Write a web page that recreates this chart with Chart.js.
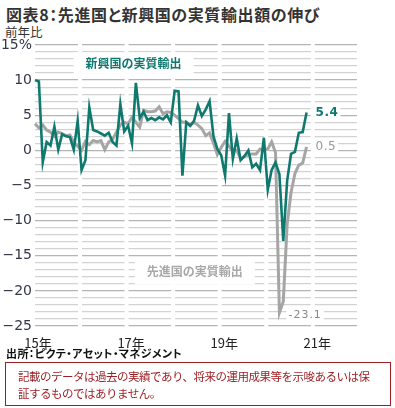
<!DOCTYPE html>
<html lang="ja">
<head>
<meta charset="utf-8">
<script src="https://cdn.jsdelivr.net/npm/chart.js@4"></script>
<style>
  body { margin: 0; width: 395px; height: 408px; background: #fff; position: relative; overflow: hidden;
         font-family: "Noto Sans CJK JP", sans-serif; }
  #title { position: absolute; left: 6px; top: 2px; font-size: 16px; font-weight: bold; color: #333; letter-spacing: 0.6px;
           white-space: nowrap; font-feature-settings: "palt"; }
  #unit { position: absolute; left: 5px; top: 22px; font-size: 12.5px; color: #333; }
  #chart { position: absolute; left: 0; top: 0; }
  #source { position: absolute; left: 6px; top: 345px; font-size: 11px; font-weight: bold; color: #111; letter-spacing: 0.4px;
            white-space: nowrap; font-feature-settings: "palt"; }
  #note { position: absolute; left: 5px; top: 362px; width: 386px; height: 44px; border: 1px solid #9c1f24;
          box-sizing: border-box; padding: 5px 0 0 12px; font-size: 11.5px; line-height: 17px; color: #9c1f24;
          letter-spacing: -0.5px; white-space: nowrap; }
</style>
</head>
<body>
<div id="title">図表8：先進国と新興国の実質輸出額の伸び</div>
<div id="unit">前年比</div>
<canvas id="chart" width="395" height="350"></canvas>
<div id="source">出所：ピクテ・アセット・マネジメント</div>
<div id="note">記載のデータは過去の実績であり、将来の運用成果等を示唆あるいは保<br>証するものではありません。</div>

<script>
// categories: one per month, Jan 2015 .. Dec 2021
const years = ["15年", "16年", "17年", "18年", "19年", "20年", "21年"];
const monthNames = ["1月","2月","3月","4月","5月","6月","7月","8月","9月","10月","11月","12月"];
const shownYears = ["15年", "17年", "19年", "21年"];

// 前年比 %, Jan 2015 .. Nov 2020
const emerging = [
  10.0, 9.8, -1.7, 1.2, 0.7, 3.4, 0.1, 2.3, 2.0, 1.9, 0.1, 4.2,
  -2.8, -1.4, 6.1, 2.9, 2.7, 2.4, 2.1, 2.5, 1.2, 0.7, 6.6, 2.7,
  3.5, 1.0, 9.6, 4.6, 5.5, 4.3, 4.6, 4.3, 4.7, 4.4, 5.0, 4.0,
  8.5, 8.4, -3.6, 4.0, 3.5, 4.2, 6.4, 4.9, 5.8, 7.0, 2.0, 0.2,
  -0.7, -3.6, 5.3, -1.2, 1.7, -1.4, -0.8, 0.0, -2.4, -1.9, -2.8, 1.8,
  -5.6, -2.8, -1.7, -3.4, -12.9, -4.3, -0.5, -0.2, 2.5, 2.6, 5.4
];
const developed = [
  3.8, 3.2, 3.6, 2.9, 2.6, 2.0, 2.6, 2.4, 2.1, 2.2, 1.2, 0.6,
  0.0, 1.3, 0.8, 1.4, 1.2, 1.4, 0.1, 1.2, 1.6, 2.6, 3.6, 4.0,
  3.8, 4.7, 4.0, 3.3, 5.7, 5.5, 5.5, 5.6, 6.2, 5.2, 5.5, 5.4,
  5.0, 4.5, 4.0, 4.0, 3.6, 4.0, 3.6, 3.1, 2.1, 2.5, 1.0, -0.6,
  0.4, 1.3, 0.6, -0.2, 0.0, -1.2, -0.9, -0.6, -0.5, -0.5, 0.2, 0.0,
  0.2, 1.2, -0.3, -23.1, -21.5, -10.5, -6.0, -3.3, -2.1, -1.8, 0.5
];

const yMin = -25, yMax = 15;
const tealColor = "#10796f";
const greyColor = "#a5a5a5";

const labels = [];
years.forEach(y => monthNames.forEach(m => labels.push(y + m)));

// white gaps in the horizontal grid at each year boundary
const yearGaps = {
  id: "yearGaps",
  beforeDatasetsDraw(chart) {
    const { ctx, chartArea, scales } = chart;
    ctx.save();
    ctx.strokeStyle = "#fff";
    ctx.lineWidth = 4;
    for (let i = 1; i < years.length; i++) {
      const x = scales.x.getPixelForValue(i * 12 - 0.4);
      ctx.beginPath();
      ctx.moveTo(x, chartArea.top - 2);
      ctx.lineTo(x, chartArea.bottom + 2);
      ctx.stroke();
    }
    ctx.restore();
  }
};

function boxedText(ctx, text, x, y, opts) {
  ctx.font = opts.font;
  ctx.letterSpacing = opts.spacing || "0px";
  const w = ctx.measureText(text).width;
  ctx.fillStyle = "#fff";
  ctx.fillRect(x - (opts.align === "left" ? opts.padX : w / 2 + opts.padX), y - opts.h / 2,
               w + opts.padX * 2, opts.h);
  ctx.fillStyle = opts.color;
  ctx.textAlign = opts.align || "center";
  ctx.textBaseline = "middle";
  ctx.fillText(text, x, y);
}

// series names and end/min value labels
const annotations = {
  id: "annotations",
  beforeDatasetsDraw(chart) {
    const { ctx, scales } = chart;
    const x = scales.x, y = scales.y;
    ctx.save();
    boxedText(ctx, "新興国の実質輸出", x.getPixelForValue(25.4), y.getPixelForValue(12.4),
      { font: "bold 12px 'Noto Sans CJK JP'", color: tealColor, padX: 12, h: 22 });
    boxedText(ctx, "先進国の実質輸出", x.getPixelForValue(41.2), y.getPixelForValue(-17.3),
      { font: "bold 12px 'Noto Sans CJK JP'", color: "#a8a8a8", padX: 12, h: 25 });
    ctx.restore();
  },
  afterDatasetsDraw(chart) {
    const { ctx, scales } = chart;
    const x = scales.x, y = scales.y;
    const last = emerging.length - 1;
    const minVal = Math.min(...developed);
    const minIdx = developed.indexOf(minVal);
    ctx.save();
    boxedText(ctx, emerging[last].toFixed(1), x.getPixelForValue(last) + 9, y.getPixelForValue(emerging[last]),
      { font: "bold 12px 'DejaVu Sans'", color: tealColor, padX: 2, h: 12, align: "left", spacing: "0.5px" });
    boxedText(ctx, developed[last].toFixed(1), x.getPixelForValue(last) + 9, y.getPixelForValue(developed[last]),
      { font: "12px 'DejaVu Sans'", color: "#999", padX: 2, h: 12, align: "left", spacing: "0.5px" });
    boxedText(ctx, minVal.toFixed(1), x.getPixelForValue(minIdx) + 9, y.getPixelForValue(minVal) + 2,
      { font: "11px 'DejaVu Sans'", color: "#888", padX: 2, h: 12, align: "left", spacing: "1px" });
    ctx.restore();
  }
};

new Chart(document.getElementById("chart"), {
  type: "line",
  data: {
    labels: labels,
    datasets: [
      { label: "新興国の実質輸出", data: emerging, borderColor: tealColor, borderWidth: 2.6,
        pointRadius: 0, tension: 0, fill: false },
      { label: "先進国の実質輸出", data: developed, borderColor: greyColor, borderWidth: 3,
        pointRadius: 0, tension: 0, fill: false }
    ]
  },
  options: {
    responsive: false,
    animation: false,
    devicePixelRatio: 1,
    layout: { padding: { left: 0, right: 38, top: 45, bottom: 0 } },
    plugins: { legend: { display: false }, tooltip: { enabled: false } },
    scales: {
      x: {
        type: "category",
        offset: false,
        grid: { display: false },
        border: { display: false },
        afterFit: s => { s.height = 24; },
        ticks: {
          autoSkip: false, maxRotation: 0, padding: 1, labelOffset: 3,
          color: "#222", font: { family: "'Noto Sans CJK JP'", size: 13 },
          callback: (v, i) => {
            const yr = years[Math.floor(i / 12)];
            return (i % 12 === 0 && shownYears.includes(yr)) ? yr : "";
          }
        }
      },
      y: {
        min: yMin, max: yMax,
        border: { display: false },
        afterFit: s => { s.width = 35; },
        grid: {
          drawTicks: false,
          color: c => c.tick.value % 5 === 0 ? "#b4b4b4" : "#d2d2d2",
          lineWidth: 1.3
        },
        ticks: {
          stepSize: 1, autoSkip: false, padding: 3,
          color: "#35364a", font: { family: "'DejaVu Sans'", size: 14 },
          callback: v => {
            if (v % 5 !== 0) return "";
            if (v === yMax) return v + "%";
            return v < 0 ? "−" + Math.abs(v) : String(v);
          }
        }
      }
    }
  },
  plugins: [yearGaps, annotations]
});
</script>
</body>
</html>
